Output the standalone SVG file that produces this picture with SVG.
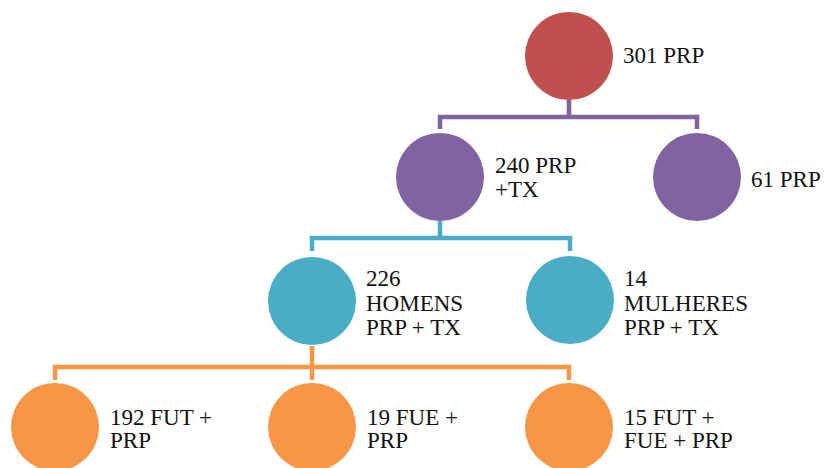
<svg xmlns="http://www.w3.org/2000/svg" width="827" height="468" viewBox="0 0 827 468">
<style>
  text { font-family: "Liberation Serif", "DejaVu Serif", serif; font-size: 23px; fill: #111111; }
  .conn { fill: none; stroke-width: 4.5; stroke-linecap: butt; stroke-linejoin: miter; }
  .red { fill: #C0504D; }
  .purple { fill: #8064A2; }
  .teal { fill: #4BACC6; }
  .orange { fill: #F79646; }
</style>
<rect width="827" height="468" fill="#ffffff"/>
<g id="connectors">
  <path class="conn" stroke="#8064A2" d="M569,100 V117 M440,129 V117 H697 V129"/>
  <path class="conn" stroke="#4BACC6" d="M440,221 V238 M312,251 V238 H570 V251"/>
  <path class="conn" stroke="#F79646" d="M312,346 V380 M55,380 V367 H569 V380"/>
</g>
<g id="n301">
  <circle class="red" cx="569" cy="56" r="44"/>
  <text x="623" y="63">301 PRP</text>
</g>
<g id="n240">
  <circle class="purple" cx="440" cy="177" r="44"/>
  <text x="495" y="173">240 PRP</text>
  <text x="495" y="197">+TX</text>
</g>
<g id="n61">
  <circle class="purple" cx="697" cy="177" r="44"/>
  <text x="751" y="187">61 PRP</text>
</g>
<g id="n226">
  <circle class="teal" cx="312" cy="301" r="44"/>
  <text x="366" y="286">226</text>
  <text x="366" y="311">HOMENS</text>
  <text x="366" y="335">PRP + TX</text>
</g>
<g id="n14">
  <circle class="teal" cx="570" cy="300" r="44"/>
  <text x="624" y="286">14</text>
  <text x="624" y="311">MULHERES</text>
  <text x="624" y="335">PRP + TX</text>
</g>
<g id="n192">
  <circle class="orange" cx="55" cy="427" r="44"/>
  <text x="110" y="425">192 FUT +</text>
  <text x="110" y="448">PRP</text>
</g>
<g id="n19">
  <circle class="orange" cx="312" cy="427" r="44"/>
  <text x="367" y="425">19 FUE +</text>
  <text x="367" y="448">PRP</text>
</g>
<g id="n15">
  <circle class="orange" cx="569" cy="427" r="44"/>
  <text x="624" y="425">15 FUT +</text>
  <text x="624" y="448">FUE + PRP</text>
</g>
</svg>
